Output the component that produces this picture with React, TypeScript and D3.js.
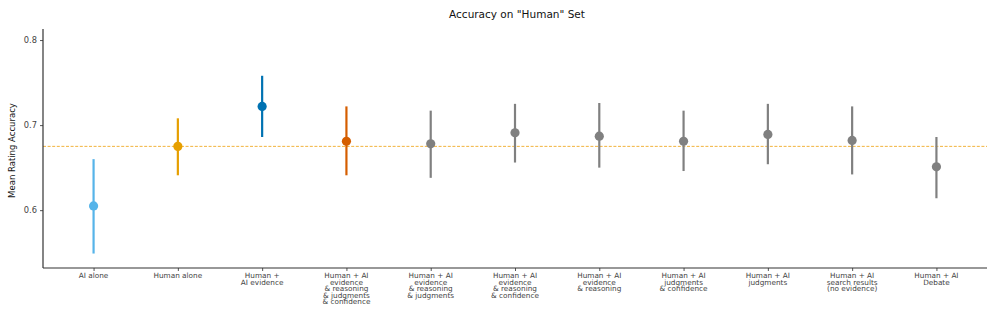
import React, { useEffect, useRef } from 'react';
import * as d3 from 'd3';

// Accuracy on "Human" set: mean + CI per condition
const conditions = [
  ['AI alone'],
  ['Human alone'],
  ['Human +', 'AI evidence'],
  ['Human + AI', 'evidence', '& reasoning', '& judgments', '& confidence'],
  ['Human + AI', 'evidence', '& reasoning', '& judgments'],
  ['Human + AI', 'evidence', '& reasoning', '& confidence'],
  ['Human + AI', 'evidence', '& reasoning'],
  ['Human + AI', 'judgments', '& confidence'],
  ['Human + AI', 'judgments'],
  ['Human + AI', 'search results', '(no evidence)'],
  ['Human + AI', 'Debate'],
];
const means = [0.605, 0.675, 0.722, 0.681, 0.678, 0.691, 0.687, 0.681, 0.689, 0.682, 0.651];
const lower = [0.549, 0.641, 0.686, 0.641, 0.638, 0.656, 0.650, 0.646, 0.654, 0.642, 0.614];
const upper = [0.660, 0.708, 0.758, 0.722, 0.717, 0.725, 0.726, 0.717, 0.725, 0.722, 0.686];
const colors = ['#56B4E9', '#E69F00', '#0072B2', '#D55E00', '#808080', '#808080', '#808080', '#808080', '#808080', '#808080', '#808080'];
const baseline = 0.675;
const yTicks = [0.6, 0.7, 0.8];

const W = 997, H = 315;

export default function App() {
  const ref = useRef<SVGSVGElement>(null);

  useEffect(() => {
    const svg = d3.select(ref.current);
    svg.selectAll('*').remove();
    const font = 'DejaVu Sans, sans-serif';
    const left = 43, right = 987, top = 29, bottom = 268;

    const x = d3.scalePoint<number>().domain(d3.range(conditions.length)).range([left, right]).padding(0.6);
    const y = d3.scaleLinear().domain([0.532, 0.813]).range([bottom, top]);

    svg.append('text').attr('x', 517).attr('y', 18).attr('text-anchor', 'middle')
      .attr('font-family', font).attr('font-size', 10.5).attr('fill', '#111')
      .text('Accuracy on "Human" Set');

    // baseline (human alone)
    svg.append('line').attr('x1', left).attr('x2', right).attr('y1', y(baseline)).attr('y2', y(baseline))
      .attr('stroke', '#F2B33D').attr('stroke-width', 1).attr('stroke-dasharray', '3,1.6');

    const g = svg.append('g');
    conditions.forEach((_, i) => {
      g.append('line').attr('x1', x(i)!).attr('x2', x(i)!).attr('y1', y(lower[i])).attr('y2', y(upper[i]))
        .attr('stroke', colors[i]).attr('stroke-width', 2.2);
      g.append('circle').attr('cx', x(i)!).attr('cy', y(means[i])).attr('r', 4.6).attr('fill', colors[i]);
    });

    // y axis
    const ya = svg.append('g').attr('transform', `translate(${left},0)`)
      .call(d3.axisLeft(y).tickValues(yTicks).tickSize(3).tickPadding(3).tickFormat(d3.format('.1f')));
    ya.select('.domain').remove();
    ya.selectAll('line').attr('stroke', '#555');
    ya.selectAll('text').attr('font-family', font).attr('font-size', 8.3).attr('fill', '#444');
    svg.append('line').attr('x1', left).attr('x2', left).attr('y1', top).attr('y2', bottom)
      .attr('stroke', '#333').attr('stroke-width', 1.2);

    // x axis
    const xa = svg.append('g').attr('transform', `translate(0,${bottom})`)
      .call(d3.axisBottom(x).tickSize(3).tickFormat(() => ''));
    xa.select('.domain').remove();
    xa.selectAll('line').attr('stroke', '#555');
    svg.append('line').attr('x1', left).attr('x2', right).attr('y1', bottom).attr('y2', bottom)
      .attr('stroke', '#333').attr('stroke-width', 1.2);
    conditions.forEach((lines, i) => {
      const t = svg.append('text').attr('text-anchor', 'middle').attr('font-family', font)
        .attr('font-size', 7.3).attr('fill', '#444');
      lines.forEach((ln, k) => {
        t.append('tspan').attr('x', x(i)!).attr('y', 278 + k * 6.6).text(ln);
      });
    });

    svg.append('text').attr('transform', `translate(15,${(top + bottom) / 2 + 2}) rotate(-90)`)
      .attr('text-anchor', 'middle').attr('font-family', font).attr('font-size', 8.5).attr('fill', '#111')
      .text('Mean Rating Accuracy');
  }, []);

  return <svg ref={ref} width={W} height={H} style={{ display: 'block', position: 'absolute', left: 0, top: 0, background: '#fff' }} />;
}
